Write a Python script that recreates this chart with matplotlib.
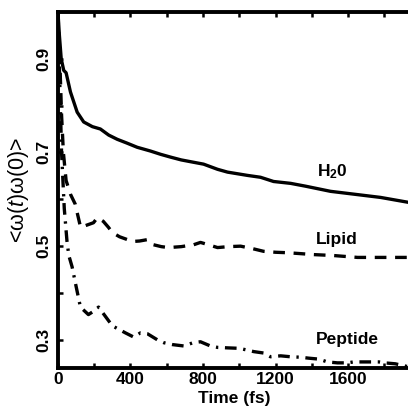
import matplotlib
matplotlib.use("Agg")
import matplotlib.pyplot as plt

# time axis (fs) and correlation values for each environment
h2o_t = [0, 8, 18, 32, 45, 69, 106, 142, 190, 234, 280, 327, 380, 437, 510, 566,
         621, 680, 748, 803, 880, 935, 1045, 1117, 1189, 1283, 1365, 1503, 1652,
         1779, 1940]
h2o_v = [1.0, 0.95, 0.90, 0.875, 0.870, 0.829, 0.786, 0.765, 0.755, 0.750,
         0.737, 0.728, 0.720, 0.711, 0.703, 0.696, 0.690, 0.684, 0.679, 0.675,
         0.664, 0.658, 0.651, 0.647, 0.638, 0.634, 0.628, 0.617, 0.610, 0.604,
         0.593]

lipid_t = [0, 10, 20, 30, 45, 70, 95, 125, 160, 196, 218, 250, 279, 300, 340,
           383, 411, 450, 494, 527, 570, 610, 680, 748, 786, 830, 880, 940,
           1007, 1070, 1134, 1200, 1266, 1340, 1410, 1520, 1652, 1779, 1940]
lipid_v = [1.0, 0.90, 0.78, 0.70, 0.64, 0.61, 0.59, 0.54, 0.545, 0.55, 0.561,
           0.553, 0.54, 0.529, 0.52, 0.514, 0.51, 0.511, 0.514, 0.503, 0.499,
           0.497, 0.499, 0.503, 0.508, 0.503, 0.497, 0.499, 0.50, 0.495, 0.489,
           0.487, 0.486, 0.484, 0.482, 0.48, 0.476, 0.476, 0.476]

peptide_t = [0, 10, 20, 35, 50, 60, 78, 97, 124, 168, 200, 224, 262, 300, 372,
             418, 455, 494, 549, 584, 631, 695, 745, 786, 841, 880, 935, 1000,
             1035, 1080, 1134, 1172, 1228, 1283, 1338, 1383, 1438, 1486, 1541,
             1597, 1630, 1700, 1770, 1800, 1860, 1940]
peptide_v = [1.0, 0.85, 0.70, 0.58, 0.51, 0.48, 0.456, 0.42, 0.37, 0.354,
             0.362, 0.37, 0.35, 0.33, 0.315, 0.306, 0.315, 0.313, 0.30, 0.294,
             0.29, 0.287, 0.294, 0.296, 0.287, 0.284, 0.283, 0.282, 0.279,
             0.275, 0.272, 0.264, 0.266, 0.264, 0.263, 0.261, 0.259, 0.253,
             0.251, 0.251, 0.253, 0.253, 0.253, 0.251, 0.249, 0.242]

x_ticks = [0, 400, 800, 1200, 1600]
y_ticks = [0.3, 0.5, 0.7, 0.9]

plt.rcParams["font.family"] = ["Liberation Sans", "DejaVu Sans"]
plt.rcParams["mathtext.fontset"] = "custom"
plt.rcParams["mathtext.it"] = "Liberation Sans:italic"
plt.rcParams["mathtext.rm"] = "Liberation Sans"
plt.rcParams["mathtext.bf"] = "Liberation Sans:bold"

fig = plt.figure(figsize=(4.08, 4.08), dpi=100)
# axes runs a little past the right edge of the figure
ax = fig.add_axes([0.142, 0.098, 0.889, 0.873])

lw = 2.4
ax.plot(h2o_t, h2o_v, color="black", lw=lw, solid_capstyle="butt")
ax.plot(lipid_t, lipid_v, color="black", lw=lw, dashes=(3.5, 2.6))
ax.plot(peptide_t, peptide_v, color="black", lw=lw, dashes=(3.5, 2.0, 0.7, 2.0))

ax.set_xlim(0, 2000)
ax.set_ylim(0.24, 1.0)

xt = list(range(0, 2001, 200))
ax.set_xticks(xt)
ax.set_xticklabels([str(t) if t in x_ticks else "" for t in xt],
                   fontweight="bold", fontsize=12.5)
yt = [0.3, 0.4, 0.5, 0.6, 0.7, 0.8, 0.9]
ax.set_yticks(yt)
ax.set_yticklabels([f"{v:.1f}" if v in y_ticks else "" for v in yt],
                   fontweight="bold", fontsize=12.5, rotation=90, va="center")
ax.tick_params(direction="in", length=3.5, width=1.8, top=True, pad=3)
ax.tick_params(axis="y", pad=5)

for side in ("left", "bottom", "top"):
    ax.spines[side].set_linewidth(2.8)
ax.spines["right"].set_visible(False)

ax.set_xlabel("Time (fs)", fontweight="bold", fontsize=12.5, labelpad=0)
ax.xaxis.set_label_coords(0.485, -0.065)
ax.set_ylabel(r"<ω($\it{t}$)ω(0)>", fontsize=15.5)
ax.yaxis.set_label_coords(-0.075, 0.5)

ax.text(1513, 0.638, r"H$_\mathbf{2}$0", fontweight="bold", fontsize=12.5,
        ha="center", va="bottom")
ax.text(1540, 0.514, "Lipid", fontweight="bold", fontsize=12.5,
        ha="center", va="center")
ax.text(1595, 0.300, "Peptide", fontweight="bold", fontsize=12.5,
        ha="center", va="center")

fig.savefig("out.png", dpi=100)
